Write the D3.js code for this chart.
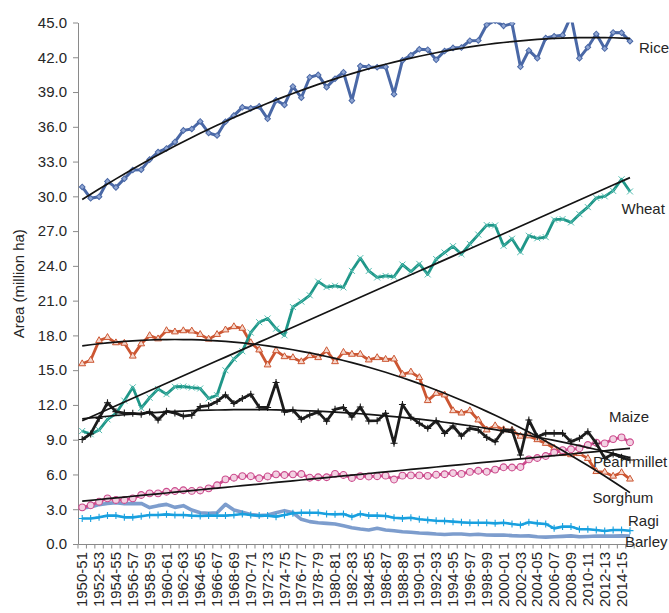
<!DOCTYPE html>
<html>
<head>
<meta charset="utf-8">
<script src="https://cdn.jsdelivr.net/npm/d3@7"></script>
<style>
  body { margin: 0; background: #fff; }
  svg { display: block; font-family: "Liberation Sans", Arial, Helvetica, sans-serif; }
</style>
</head>
<body>
<svg id="chart" width="669" height="613"></svg>
<script>
// Crop years (categories)
const years = [
  "1950-51","1951-52","1952-53","1953-54","1954-55","1955-56","1956-57","1957-58","1958-59","1959-60",
  "1960-61","1961-62","1962-63","1963-64","1964-65","1965-66","1966-67","1967-68","1968-69","1969-70",
  "1970-71","1971-72","1972-73","1973-74","1974-75","1975-76","1976-77","1977-78","1978-79","1979-80",
  "1980-81","1981-82","1982-83","1983-84","1984-85","1985-86","1986-87","1987-88","1988-89","1989-90",
  "1990-91","1991-92","1992-93","1993-94","1994-95","1995-96","1996-97","1997-98","1998-99","1999-00",
  "2000-01","2001-02","2002-03","2003-04","2004-05","2005-06","2006-07","2007-08","2008-09","2009-10",
  "2010-11","2011-12","2012-13","2013-14","2014-15","2015-16"
];

// Area under each crop, million ha
const rice = [30.81,29.83,29.97,31.29,30.77,31.52,32.28,32.30,33.17,33.82,
  34.13,34.69,35.69,35.81,36.46,35.47,35.25,36.44,36.97,37.68,
  37.59,37.76,36.69,38.29,37.89,39.48,38.51,40.28,40.48,39.42,
  40.15,40.71,38.26,41.24,41.16,41.14,41.17,38.81,41.73,42.17,
  42.69,42.65,41.78,42.54,42.81,42.84,43.43,43.45,44.80,45.16,
  44.71,44.90,41.18,42.59,41.91,43.66,43.81,43.91,45.54,41.92,
  42.86,44.01,42.75,44.14,44.11,43.39];
const wheat = [9.75,9.47,9.83,10.75,11.26,12.37,13.52,11.73,12.62,13.38,
  12.93,13.57,13.59,13.50,13.42,12.57,12.84,14.99,15.96,16.63,
  18.24,19.14,19.46,18.58,18.01,20.45,20.92,21.46,22.64,22.17,
  22.28,22.14,23.57,24.67,23.56,23.00,23.13,23.06,24.11,23.50,
  24.17,23.26,24.59,25.15,25.70,25.01,25.89,26.70,27.52,27.49,
  25.73,26.34,25.20,26.60,26.38,26.48,27.99,28.04,27.75,28.46,
  29.07,29.86,30.00,30.47,31.47,30.42];
const sorghum = [15.55,15.85,17.55,17.82,17.36,17.32,16.21,17.27,17.98,17.70,
  18.41,18.30,18.40,18.38,18.08,17.68,18.08,18.47,18.75,18.61,
  17.37,16.74,15.45,16.68,16.16,16.08,15.73,16.25,16.08,16.68,
  15.73,16.54,16.37,16.37,15.88,16.08,15.93,15.96,14.64,14.84,
  14.36,12.37,13.00,12.86,11.50,11.30,11.50,10.70,9.84,10.20,
  9.86,9.80,9.30,9.33,9.00,8.68,8.26,7.80,7.70,7.80,
  7.38,6.25,6.20,5.85,6.16,5.60];
const pearlMillet = [9.02,9.50,10.84,12.19,11.42,11.30,11.28,11.20,11.40,10.70,
  11.46,11.30,11.04,11.12,11.85,11.95,12.30,12.86,12.12,12.55,
  12.92,11.80,11.78,13.94,11.40,11.56,10.76,11.13,11.38,10.60,
  11.62,11.78,10.96,11.82,10.62,10.64,11.27,8.69,12.04,10.94,
  10.41,9.98,10.64,9.55,10.18,9.32,9.98,9.84,9.20,8.83,
  9.84,9.83,7.68,10.70,9.26,9.55,9.55,9.55,8.83,9.12,
  9.69,8.69,7.39,7.77,7.48,7.25];
const maize = [3.16,3.34,3.65,3.94,3.80,3.80,3.94,4.23,4.37,4.37,
  4.51,4.57,4.64,4.58,4.62,4.80,5.07,5.58,5.72,5.86,
  5.85,5.67,5.83,6.01,5.95,6.01,6.04,5.72,5.76,5.76,
  6.05,5.96,5.70,5.86,5.82,5.85,5.90,5.56,5.90,5.92,
  5.92,5.88,5.98,6.02,6.12,6.05,6.22,6.32,6.23,6.42,
  6.62,6.60,6.64,7.30,7.42,7.59,7.89,8.10,8.17,8.26,
  8.54,8.75,8.68,9.05,9.20,8.78];
const ragi = [2.20,2.20,2.30,2.45,2.45,2.30,2.30,2.39,2.50,2.50,
  2.56,2.50,2.50,2.45,2.42,2.45,2.45,2.45,2.50,2.59,
  2.50,2.45,2.45,2.36,2.50,2.65,2.70,2.70,2.70,2.59,
  2.56,2.59,2.36,2.59,2.45,2.45,2.42,2.27,2.21,2.27,
  2.13,2.07,2.01,1.98,1.93,1.87,1.84,1.84,1.84,1.78,
  1.84,1.73,1.64,1.87,1.78,1.73,1.35,1.50,1.50,1.27,
  1.27,1.21,1.12,1.21,1.21,1.15];
const barley = [3.11,3.20,3.40,3.50,3.57,3.48,3.48,3.50,3.14,3.31,
  3.42,3.16,3.31,2.93,2.70,2.65,2.70,3.42,2.93,2.75,
  2.55,2.45,2.50,2.70,2.88,2.70,2.13,1.93,1.84,1.78,
  1.73,1.58,1.41,1.29,1.21,1.35,1.21,1.15,1.06,1.01,
  0.95,0.92,0.86,0.82,0.86,0.86,0.80,0.84,0.78,0.77,
  0.78,0.72,0.69,0.70,0.62,0.59,0.62,0.66,0.70,0.62,
  0.65,0.69,0.68,0.68,0.70,0.68];

const yTicks = [0,3,6,9,12,15,18,21,24,27,30,33,36,39,42,45];
const seriesNames = ["Rice","Wheat","Maize","Pearl millet","Sorghum","Ragi","Barley"];

// ---- layout ----
const svg = d3.select("#chart");
const plot = { left: 78, right: 634.2, top: 22.5, bottom: 544 };
const textColor = "#262626";
const axisColor = "#8a8a8a";

const x = d3.scaleBand().domain(years).range([plot.left, plot.right]).padding(0);
const cx = d => x(d) + x.bandwidth() / 2;
const y = d3.scaleLinear().domain([0, 45]).range([plot.bottom, plot.top]);

svg.append("defs").append("clipPath").attr("id", "plotClip")
  .append("rect")
  .attr("x", plot.left).attr("y", plot.top)
  .attr("width", 669 - plot.left).attr("height", plot.bottom - plot.top);

// ---- y axis ----
const yAxis = svg.append("g")
  .attr("transform", `translate(${plot.left},0)`)
  .call(d3.axisLeft(y).tickValues(yTicks).tickFormat(d3.format(".1f")).tickSize(5).tickPadding(6).tickSizeOuter(0));
yAxis.select(".domain").attr("stroke", axisColor).attr("stroke-width", 1);
yAxis.selectAll(".tick line").attr("stroke", axisColor);
yAxis.selectAll(".tick text").attr("fill", textColor).attr("font-size", 15)
  .attr("font-family", "Liberation Sans, Arial, sans-serif");

svg.append("text")
  .attr("transform", `translate(24,${(plot.top + plot.bottom) / 2 + 0.5}) rotate(-90)`)
  .attr("text-anchor", "middle")
  .attr("font-size", 15).attr("fill", textColor)
  .text("Area (million ha)");

// ---- x axis ----
const xAxis = svg.append("g")
  .attr("transform", `translate(0,${plot.bottom})`)
  .call(d3.axisBottom(x).tickValues(years.filter((d, i) => i % 2 === 0)).tickSize(0).tickPadding(0).tickSizeOuter(0));
xAxis.select(".domain").attr("stroke", axisColor).attr("stroke-width", 1);
xAxis.selectAll(".tick text")
  .attr("fill", textColor).attr("font-size", 15)
  .attr("font-family", "Liberation Sans, Arial, sans-serif")
  .attr("text-anchor", "end")
  .attr("transform", "translate(0,8) rotate(-90)")
  .attr("x", 0).attr("y", 0).attr("dy", "0.34em");
// tick marks sit on the category boundaries
xAxis.selectAll(".bound")
  .data(years.concat([null]))
  .join("line")
  .attr("class", "bound")
  .attr("x1", d => d === null ? plot.right : x(d))
  .attr("x2", d => d === null ? plot.right : x(d))
  .attr("y1", 0).attr("y2", 4.5)
  .attr("stroke", axisColor).attr("stroke-width", 1);

// ---- least-squares polynomial trend ----
function polyfit(ys, deg) {
  const n = deg + 1;
  const A = Array.from({ length: n }, () => new Array(n + 1).fill(0));
  ys.forEach((v, i) => {
    const t = i + 1;
    for (let r = 0; r < n; r++) {
      for (let c = 0; c < n; c++) A[r][c] += Math.pow(t, r + c);
      A[r][n] += v * Math.pow(t, r);
    }
  });
  for (let p = 0; p < n; p++) {
    let m = p;
    for (let r = p + 1; r < n; r++) if (Math.abs(A[r][p]) > Math.abs(A[m][p])) m = r;
    [A[p], A[m]] = [A[m], A[p]];
    for (let r = 0; r < n; r++) {
      if (r === p) continue;
      const f = A[r][p] / A[p][p];
      for (let c = p; c <= n; c++) A[r][c] -= f * A[p][c];
    }
  }
  const coef = A.map((row, i) => row[n] / row[i]);
  return ys.map((v, i) => coef.reduce((s, k, j) => s + k * Math.pow(i + 1, j), 0));
}

// ---- series ----
const series = [
  { name: "Barley", values: barley, color: "#7d9dcd", width: 3.6, marker: null },
  { name: "Ragi", values: ragi, color: "#18a0df", width: 2.6, marker: "plus", mcolor: "#18a0df" },
  { name: "Sorghum", values: sorghum, color: "#cc5632", width: 2.8, marker: "triangle", mcolor: "#cc5632", fill: "#f5d6cb", trend: 2 },
  { name: "Maize", values: maize, color: "#cc4b8d", width: 2.8, marker: "circle", mcolor: "#cc4b8d", fill: "#f3d2e3", trend: 1 },
  { name: "Wheat", values: wheat, color: "#1f9688", width: 2.8, marker: "x", mcolor: "#52bdb0", trend: 1 },
  { name: "Pearl millet", values: pearlMillet, color: "#1c1c1c", width: 2.8, marker: "plus", mcolor: "#1c1c1c", trend: 2 },
  { name: "Rice", values: rice, color: "#4a68a6", width: 3, marker: "diamond", mcolor: "#4a68a6", fill: "#8fa5d2", trend: 2 }
];

const line = d3.line().x((d, i) => cx(years[i])).y(d => y(d));
const dataLayer = svg.append("g").attr("clip-path", "url(#plotClip)");

series.forEach(s => {
  dataLayer.append("path")
    .datum(s.values)
    .attr("fill", "none")
    .attr("stroke", s.color)
    .attr("stroke-width", s.width)
    .attr("stroke-linejoin", "round")
    .attr("d", line);

  if (!s.marker) return;
  const g = dataLayer.append("g");
  const pts = g.selectAll("g").data(s.values).join("g")
    .attr("transform", (d, i) => `translate(${cx(years[i])},${y(d)})`);
  if (s.marker === "diamond") {
    pts.append("path").attr("d", d3.symbol(d3.symbolSquare, 16)())
      .attr("transform", "rotate(45)")
      .attr("fill", s.fill).attr("stroke", s.mcolor).attr("stroke-width", 1);
  } else if (s.marker === "triangle") {
    pts.append("path").attr("d", d3.symbol(d3.symbolTriangle, 20)())
      .attr("fill", s.fill).attr("stroke", s.mcolor).attr("stroke-width", 1);
  } else if (s.marker === "circle") {
    pts.append("circle").attr("r", 3.4)
      .attr("fill", s.fill).attr("stroke", s.mcolor).attr("stroke-width", 1.1);
  } else if (s.marker === "x") {
    pts.append("path").attr("d", "M-3,-3L3,3M-3,3L3,-3")
      .attr("stroke", s.mcolor).attr("stroke-width", 1).attr("fill", "none");
  } else if (s.marker === "plus") {
    pts.append("path").attr("d", "M-3.5,0H3.5M0,-3.5V3.5")
      .attr("stroke", s.mcolor).attr("stroke-width", 1.1).attr("fill", "none");
  }
});

// trend lines over the data
const trendLayer = svg.append("g").attr("clip-path", "url(#plotClip)");
series.filter(s => s.trend).forEach(s => {
  trendLayer.append("path")
    .datum(polyfit(s.values, s.trend))
    .attr("fill", "none")
    .attr("stroke", "#141414")
    .attr("stroke-width", 1.7)
    .attr("d", line);
});

// ---- series labels ----
const labelPos = {
  "Rice": [639, 52.5], "Wheat": [621.5, 214], "Maize": [609, 421.5],
  "Pearl millet": [593, 467], "Sorghum": [592.5, 502.5], "Ragi": [628, 526], "Barley": [625, 546.5]
};
svg.append("g").selectAll("text").data(seriesNames).join("text")
  .attr("x", d => labelPos[d][0]).attr("y", d => labelPos[d][1])
  .attr("font-size", 15).attr("fill", textColor)
  .text(d => d);
</script>
</body>
</html>
